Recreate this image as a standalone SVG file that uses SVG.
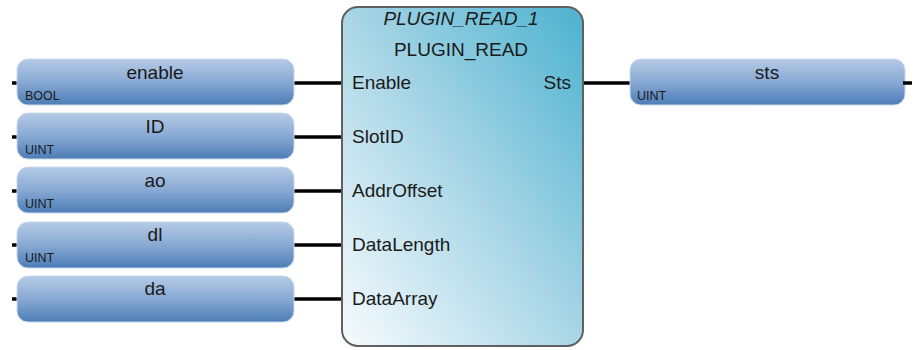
<svg xmlns="http://www.w3.org/2000/svg" width="915" height="350" viewBox="0 0 915 350">
<defs>
<linearGradient id="varg" x1="0" y1="0" x2="0" y2="1">
<stop offset="0" stop-color="#b5cbe6"/>
<stop offset="0.5" stop-color="#88a9d3"/>
<stop offset="1" stop-color="#4c7db6"/>
</linearGradient>
<linearGradient id="blkg" x1="0" y1="1" x2="1" y2="0">
<stop offset="0" stop-color="#f7fbfd"/>
<stop offset="0.5" stop-color="#a9d6e6"/>
<stop offset="1" stop-color="#4cb2cf"/>
</linearGradient>
<style>
.var{fill:url(#varg);stroke:#c9d8ea;stroke-width:1}
.blk{fill:url(#blkg);stroke:#606060;stroke-width:2}
.wire{stroke:#000;stroke-width:3.5;fill:none}
.stub{stroke:#000;stroke-width:3.5}
.name{font-family:"Liberation Sans",Arial,sans-serif;font-size:19px;fill:#1a1a1a;text-anchor:middle}
.type{font-family:"Liberation Sans",Arial,sans-serif;font-size:12.5px;fill:#1a1a1a}
.pin{font-family:"Liberation Sans",Arial,sans-serif;font-size:19px;fill:#1a1a1a}
.title{font-family:"Liberation Sans",Arial,sans-serif;font-size:19px;fill:#1a1a1a;text-anchor:middle}
</style>
</defs>
<rect width="915" height="350" fill="#ffffff"/>
<g id="connectors">
<line class="wire" x1="290" y1="83" x2="343" y2="83"/>
<line class="wire" x1="290" y1="137" x2="343" y2="137"/>
<line class="wire" x1="290" y1="191" x2="343" y2="191"/>
<line class="wire" x1="290" y1="245" x2="343" y2="245"/>
<line class="wire" x1="290" y1="299" x2="343" y2="299"/>
<line class="wire" x1="583" y1="83" x2="634" y2="83"/>
</g>
<g id="var-enable">
<line class="stub" x1="12" y1="83" x2="21" y2="83"/>
<rect class="var" x="17" y="59" width="277" height="46" rx="11"/>
<text class="name" x="155" y="79">enable</text>
<text class="type" x="25" y="100">BOOL</text>
</g>
<g id="var-ID">
<line class="stub" x1="12" y1="137" x2="21" y2="137"/>
<rect class="var" x="17" y="113" width="277" height="46" rx="11"/>
<text class="name" x="155" y="133">ID</text>
<text class="type" x="25" y="154">UINT</text>
</g>
<g id="var-ao">
<line class="stub" x1="12" y1="191" x2="21" y2="191"/>
<rect class="var" x="17" y="167" width="277" height="46" rx="11"/>
<text class="name" x="155" y="187">ao</text>
<text class="type" x="25" y="208">UINT</text>
</g>
<g id="var-dl">
<line class="stub" x1="12" y1="245" x2="21" y2="245"/>
<rect class="var" x="17" y="222" width="277" height="46" rx="11"/>
<text class="name" x="155" y="241">dl</text>
<text class="type" x="25" y="262">UINT</text>
</g>
<g id="var-da">
<line class="stub" x1="12" y1="299" x2="21" y2="299"/>
<rect class="var" x="17" y="276" width="277" height="46" rx="11"/>
<text class="name" x="155" y="295">da</text>
</g>
<g id="block-PLUGIN_READ_1">
<rect class="blk" x="342" y="7" width="241" height="339" rx="16"/>
<text class="title" x="461" y="25" font-style="italic">PLUGIN_READ_1</text>
<text class="title" x="461" y="56">PLUGIN_READ</text>
<text class="pin" x="352" y="89">Enable</text>
<text class="pin" x="352" y="143">SlotID</text>
<text class="pin" x="352" y="197">AddrOffset</text>
<text class="pin" x="352" y="251">DataLength</text>
<text class="pin" x="352" y="305">DataArray</text>
<text class="pin" x="571" y="89" text-anchor="end">Sts</text>
</g>
<g id="var-sts">
<rect class="var" x="630" y="59" width="275" height="46" rx="11"/>
<line class="stub" x1="903" y1="83" x2="912" y2="83"/>
<text class="name" x="767" y="79">sts</text>
<text class="type" x="637" y="100">UINT</text>
</g>
</svg>
